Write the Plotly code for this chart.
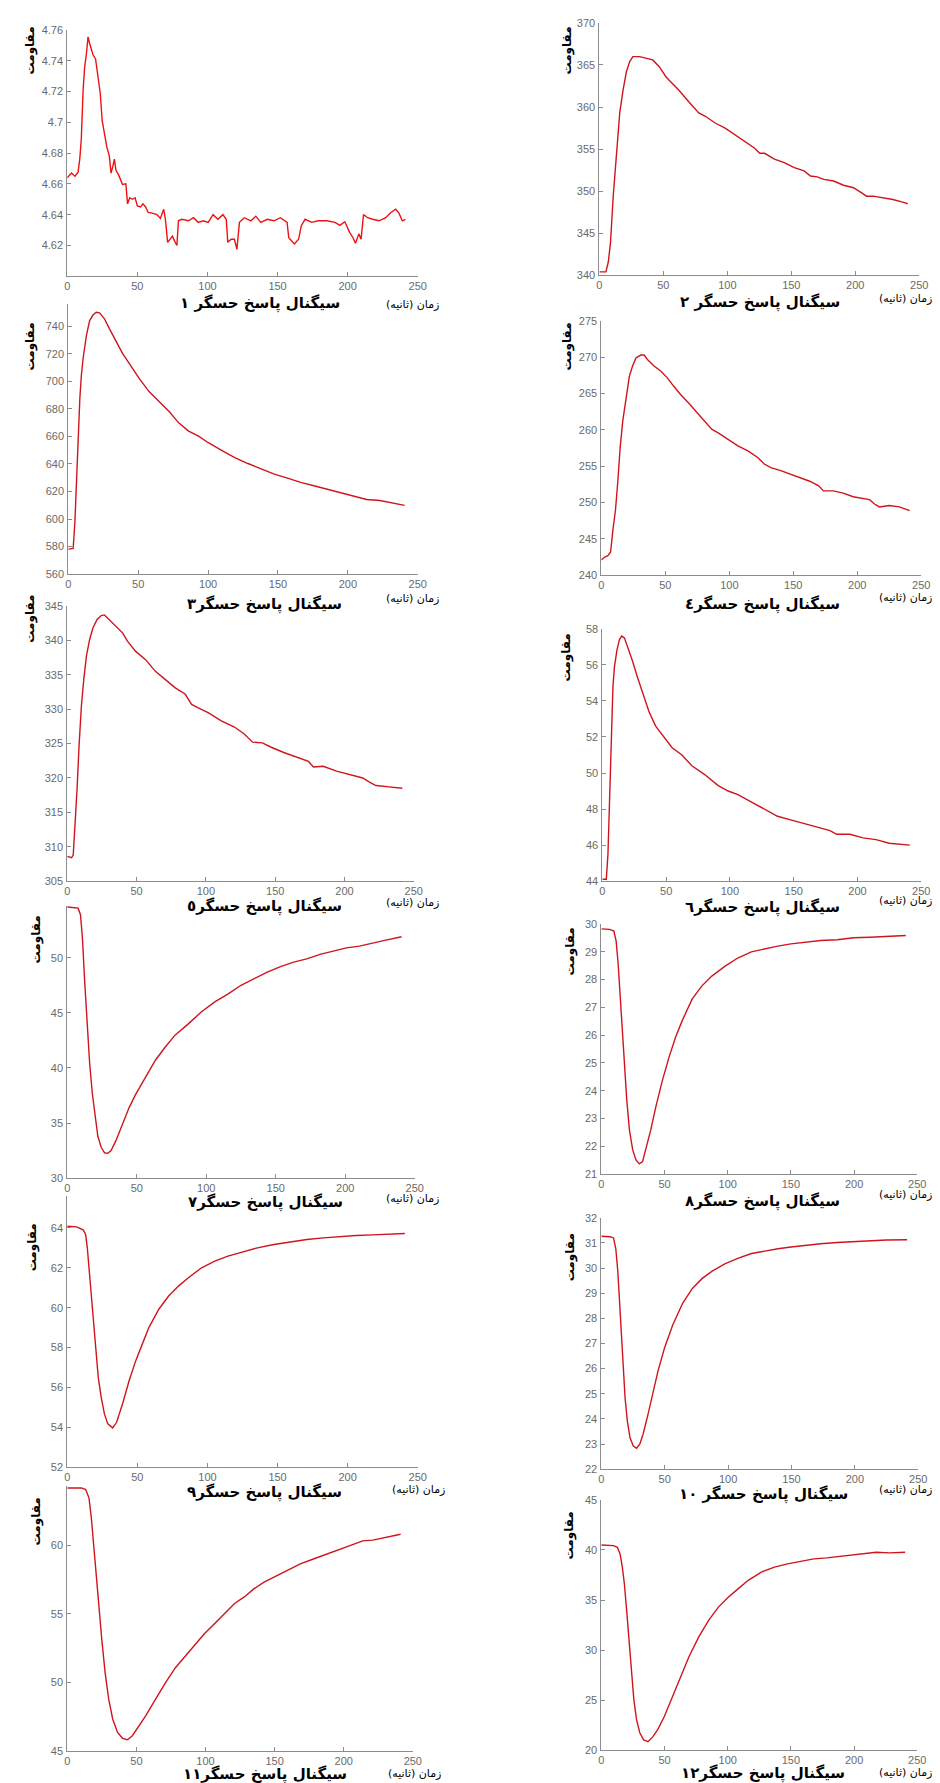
import plotly.graph_objects as go

W, H = 940, 1783

# ---------------- data (time in s, resistance) ----------------
s1_t = [0, 3, 5.5, 7.7, 8.9, 10, 11.3, 12.4, 13.6, 14.8, 16, 18.3, 20.2, 21.8, 23.5, 24.9, 26.5, 28.2, 30, 31.2,
        32.4, 33.6, 34.7, 37, 39.4, 41.8, 43, 44.6, 46.5, 48.4, 50, 52.3, 54, 55.9, 57.7, 60.6, 64, 66.4, 68.8, 70,
        71.6, 73.5, 75, 77, 78.2, 79.3, 81.7, 86.4, 90, 93.4, 97, 100.5, 104, 107.5, 111, 113.4, 114.5, 116.9, 119.2, 121,
        122.8, 126.3, 131, 134.5, 138, 142.7, 147.4, 152, 156.8, 158, 160.3, 162, 165, 167, 169.7, 174.4, 179, 185, 191, 194.4,
        198, 201.4, 203.8, 205.6, 208, 209.6, 211.3, 214.3, 217.8, 222.5, 227.2, 230.8, 234.3, 236.6, 239, 241.3]
s1_v = [4.664, 4.667, 4.665, 4.6676, 4.676, 4.689, 4.721, 4.736, 4.744, 4.7555, 4.751, 4.744, 4.741, 4.731, 4.719, 4.701, 4.693, 4.684, 4.678, 4.667,
        4.671, 4.676, 4.669, 4.665, 4.6596, 4.66, 4.647, 4.651, 4.650, 4.651, 4.6457, 4.645, 4.647, 4.645, 4.6414, 4.641, 4.640, 4.6375, 4.6435, 4.637,
        4.622, 4.624, 4.626, 4.622, 4.620, 4.636, 4.637, 4.636, 4.638, 4.635, 4.636, 4.635, 4.640, 4.637, 4.640, 4.637, 4.622, 4.624, 4.624, 4.6174,
        4.635, 4.638, 4.636, 4.639, 4.635, 4.637, 4.636, 4.638, 4.635, 4.625, 4.623, 4.621, 4.624, 4.633, 4.637, 4.635, 4.636, 4.636, 4.635, 4.633,
        4.6354, 4.6285, 4.625, 4.6214, 4.6275, 4.624, 4.640, 4.638, 4.637, 4.636, 4.638, 4.6414, 4.6435, 4.641, 4.636, 4.637]

s2_t = [0, 5.1, 7, 8.7, 10.8, 13.4, 15.9, 18.5, 21.1, 23.7, 26.2, 31.4, 36.5, 41.7, 46.8, 52, 57, 62.2, 70, 77.7,
        82.8, 90.5, 98.3, 106, 113.7, 121.4, 125.3, 129.1, 136.8, 144.5, 152.3, 160, 165, 170.3, 175.4, 183, 190.8, 198.6, 205, 208.8,
        214, 221.7, 229.4, 237.1, 241]
s2_v = [340.4, 340.4, 341.6, 343.9, 349.4, 354.5, 359.3, 362, 364.2, 365.4, 366, 366, 365.8, 365.6, 364.8, 363.6, 362.8, 362, 360.6, 359.3,
        358.9, 358.1, 357.5, 356.7, 355.9, 355.1, 354.5, 354.5, 353.8, 353.4, 352.8, 352.4, 351.8, 351.7, 351.4, 351.2, 350.7, 350.4, 349.8, 349.4,
        349.4, 349.2, 349, 348.7, 348.5]

s3_t = [0, 3.5, 4.7, 5.9, 7.1, 8.3, 9.4, 10.6, 13, 15.3, 17.7, 20, 22.4, 25.9, 29.5, 34.2, 38.9, 43.6, 50.7, 57.8,
        64.9, 72, 79, 86.1, 93.2, 100.2, 109.7, 119.1, 128.5, 138, 147.4, 156.8, 166.3, 175.7, 185.1, 194.6, 204, 213.4, 222.9, 232.3,
        240.6]
s3_v = [578.2, 578.7, 596.7, 630, 664, 687.8, 704.5, 716.5, 733.3, 744, 748, 750, 749.6, 745.3, 738, 728.5, 720, 713, 702, 692.5,
        685.4, 678.2, 669.8, 663.8, 660.2, 655.4, 649.9, 644.6, 640.3, 636.2, 632.6, 629.7, 626.6, 624.2, 621.8, 619.4, 617, 614.2, 613.5, 611.5,
        609.9]

s4_t = [0, 2.6, 5.1, 7.2, 9, 11, 12.9, 14.7, 16.7, 19.3, 21.9, 24.4, 27, 30.9, 33.4, 36, 41.2, 46.3, 51.4, 56.6,
        61.7, 68.2, 74.6, 81, 86.2, 91.3, 99, 106.7, 114.5, 122.2, 127.3, 132.5, 140.2, 148, 155.6, 163.3, 169.8, 173.6, 181.3, 189,
        196.8, 204.5, 209.6, 213.5, 217.3, 225, 232.8, 241]
s4_v = [242.1, 242.5, 242.7, 243.2, 246.2, 248.9, 253, 257.6, 261.2, 264.4, 267.4, 268.8, 269.9, 270.3, 270.3, 269.7, 268.8, 268.1, 267.2, 266,
        264.9, 263.7, 262.4, 261.2, 260.1, 259.6, 258.7, 257.8, 257.1, 256.2, 255.3, 254.8, 254.4, 253.9, 253.5, 252.9, 252.3, 251.6, 251.6, 251.3,
        250.8, 250.6, 250.4, 249.8, 249.4, 249.6, 249.4, 248.9]

s5_t = [0, 3.1, 4.3, 5.5, 7.1, 8.5, 10.2, 11.9, 13.8, 16.1, 18.5, 21.4, 24.5, 26.8, 30.4, 35.1, 39.9, 43.4, 49.4, 56.5,
        63.6, 70.8, 77.9, 85, 89.7, 94.5, 101.6, 111.1, 120.6, 127.7, 133.7, 140.8, 146.7, 156.2, 165.7, 174, 177.6, 184.7, 194.2, 203.7,
        213.2, 218, 222.7, 232.2, 241.7]
s5_v = [308.6, 308.4, 308.8, 312.7, 318.5, 324.7, 330.5, 334.3, 337.7, 340.1, 341.8, 343, 343.6, 343.7, 343, 342, 341.1, 339.9, 338.4, 337.2,
        335.5, 334.3, 333.1, 332.2, 330.7, 330.2, 329.5, 328.3, 327.4, 326.4, 325.2, 325.1, 324.5, 323.7, 323, 322.4, 321.6, 321.7, 321, 320.5,
        320, 319.4, 318.9, 318.7, 318.5]

s6_t = [0, 3.1, 4.4, 5.7, 7, 8.3, 9.5, 11.4, 13.4, 15.2, 17.3, 19.9, 23.7, 27.6, 31.5, 36.6, 41.8, 48.2, 54.7, 62.4,
        70.2, 80.5, 90.8, 98.6, 106.3, 116.6, 126.9, 137.3, 147.6, 157.9, 168.2, 178.5, 183.7, 194, 204.3, 214.6, 224.9, 232.7, 241]
s6_v = [44.1, 44.1, 45.5, 48.2, 51.9, 54.8, 55.9, 56.8, 57.4, 57.6, 57.5, 57, 56.2, 55.3, 54.5, 53.4, 52.6, 52, 51.4, 51,
        50.4, 49.9, 49.3, 49, 48.8, 48.4, 48, 47.6, 47.4, 47.2, 47, 46.8, 46.6, 46.6, 46.4, 46.3, 46.1, 46.05, 46]

s7_t = [0, 7.8, 9.5, 10.9, 12.5, 14.2, 16.1, 18, 19.9, 22, 24.4, 26.8, 29.1, 31.5, 35, 39.8, 44.5, 49.2, 56.3, 63.4,
        70.5, 77.7, 87.1, 96.6, 106.1, 115.5, 125, 134.5, 143.9, 153.4, 162.9, 172.3, 181.8, 191.3, 200.8, 210.2, 219.7, 229.2, 240.5]
s7_v = [54.6, 54.5, 53.9, 51.8, 47.9, 44.3, 40.4, 37.7, 35.6, 33.8, 32.8, 32.3, 32.25, 32.5, 33.4, 34.9, 36.4, 37.6, 39.2, 40.7,
        41.9, 43, 44, 45.1, 46, 46.7, 47.5, 48.1, 48.7, 49.2, 49.6, 49.9, 50.3, 50.6, 50.9, 51.05, 51.35, 51.6, 51.9]

s8_t = [0, 6.5, 9.9, 11.7, 13.3, 14.9, 16.4, 18.3, 20.1, 22.2, 24.8, 27.4, 30, 32.6, 35.2, 39.1, 43.1, 48.3, 53.5, 58.7,
        63.9, 71.8, 79.6, 87.4, 97.9, 108.3, 118.7, 129.2, 139.6, 150, 160.5, 173.5, 186.6, 199.6, 212.7, 225.7, 240.9]
s8_v = [29.82, 29.8, 29.74, 29.38, 28.55, 27.35, 26.16, 24.85, 23.66, 22.59, 21.87, 21.51, 21.37, 21.45, 21.87, 22.59, 23.42, 24.37, 25.2, 25.92,
        26.51, 27.29, 27.77, 28.12, 28.48, 28.78, 28.99, 29.1, 29.2, 29.28, 29.34, 29.4, 29.43, 29.5, 29.52, 29.55, 29.58]

s9_t = [0, 6.6, 11.3, 13.1, 14.3, 15.5, 16.7, 18.3, 20.2, 22.1, 24.2, 26.5, 28.9, 32.4, 35.2, 39.4, 44.1, 48.8, 53.5, 58.2,
        65.3, 72.3, 79.3, 86.4, 95.8, 105.2, 114.6, 123.9, 135.7, 147.4, 159.2, 170.9, 182.6, 194.4, 206.1, 217.8, 229.6, 240.8]
s9_v = [64.08, 64.05, 63.9, 63.67, 63, 62, 60.83, 59.33, 57.83, 56.5, 55.5, 54.67, 54.17, 53.97, 54.25, 55.17, 56.33, 57.33, 58.17, 59,
        59.92, 60.58, 61.08, 61.5, 62, 62.33, 62.58, 62.78, 63, 63.17, 63.3, 63.42, 63.5, 63.57, 63.62, 63.65, 63.68, 63.72]

s10_t = [0, 7, 9.6, 11.4, 13, 14.3, 15.6, 17.1, 18.7, 20.5, 22.6, 25.2, 27.7, 30.3, 32.9, 36.8, 40.7, 44.6, 49.8, 56.3,
         64.1, 71.8, 79.6, 87.4, 97.8, 108.1, 118.5, 128.9, 139.3, 149.6, 160, 173, 186, 198.9, 211.9, 224.8, 241.2]
s10_v = [31.27, 31.25, 31.2, 30.77, 29.85, 28.66, 27.34, 26.02, 24.84, 23.91, 23.25, 22.92, 22.83, 22.99, 23.39, 24.18, 25.1, 25.89, 26.82, 27.74,
         28.6, 29.19, 29.59, 29.88, 30.18, 30.4, 30.58, 30.68, 30.77, 30.84, 30.9, 30.97, 31.02, 31.06, 31.1, 31.12, 31.13]

s11_t = [0, 10.2, 13.3, 15.7, 17.4, 19, 21, 22.9, 25, 27.4, 30, 32.9, 36.4, 40, 43.6, 47.1, 51.9, 56.7, 63.8, 71,
         78.1, 85.2, 92.4, 99.5, 106.7, 113.8, 121, 128.1, 135.2, 142.4, 149.5, 159, 168.6, 178.1, 187.6, 197.1, 206.7, 213.8, 221, 230.5,
         241.2]
s11_v = [64.16, 64.16, 64.04, 63.44, 62, 60.07, 57.9, 55.5, 53.1, 50.7, 48.77, 47.33, 46.37, 45.94, 45.84, 46.13, 46.85, 47.57, 48.77, 49.98,
         51.06, 51.9, 52.74, 53.58, 54.3, 55.02, 55.75, 56.23, 56.83, 57.31, 57.67, 58.15, 58.63, 58.99, 59.35, 59.71, 60.07, 60.31, 60.36, 60.55,
         60.79]

s12_t = [0, 9.6, 12.7, 14.8, 16.6, 18.2, 20, 21.8, 23.6, 25.7, 27.8, 30.4, 33.5, 36.9, 40.8, 44.7, 49.9, 56.4, 62.9, 69.4,
         77.2, 85, 92.8, 100.6, 108.4, 116.2, 126.6, 137, 147.3, 157.7, 168.1, 178.5, 188.9, 199.3, 209.7, 217.5, 227.9, 240.4]
s12_v = [40.5, 40.44, 40.27, 39.61, 38.29, 36.63, 33.99, 31.01, 28.04, 25.06, 23.08, 21.75, 21.03, 20.86, 21.36, 22.08, 23.4, 25.39, 27.37, 29.36,
         31.34, 33, 34.32, 35.31, 36.14, 36.97, 37.79, 38.29, 38.62, 38.88, 39.11, 39.21, 39.35, 39.51, 39.61, 39.78, 39.71, 39.78]

series_t = [s1_t, s2_t, s3_t, s4_t, s5_t, s6_t, s7_t, s8_t, s9_t, s10_t, s11_t, s12_t]
series_v = [s1_v, s2_v, s3_v, s4_v, s5_v, s6_v, s7_v, s8_v, s9_v, s10_v, s11_v, s12_v]

# y-axis ranges and tick values
y_ranges = [[4.60, 4.76], [340, 370], [560, 756], [240, 275], [305, 345], [44, 58],
            [30, 54.7], [21, 30], [52, 65.6], [22, 32], [45, 64.3], [20, 45]]
y_ticks = [[4.62, 4.64, 4.66, 4.68, 4.70, 4.72, 4.74, 4.76],
           [340, 345, 350, 355, 360, 365, 370],
           [560, 580, 600, 620, 640, 660, 680, 700, 720, 740],
           [240, 245, 250, 255, 260, 265, 270, 275],
           [305, 310, 315, 320, 325, 330, 335, 340, 345],
           [44, 46, 48, 50, 52, 54, 56, 58],
           [30, 35, 40, 45, 50],
           [21, 22, 23, 24, 25, 26, 27, 28, 29, 30],
           [52, 54, 56, 58, 60, 62, 64],
           [22, 23, 24, 25, 26, 27, 28, 29, 30, 31, 32],
           [45, 50, 55, 60],
           [20, 25, 30, 35, 40, 45]]
x_ticks = [0, 50, 100, 150, 200, 250]

titles = ["سیگنال پاسخ حسگر ۱", "سیگنال پاسخ حسگر ۲", "سیگنال پاسخ حسگر۳", "سیگنال پاسخ حسگر٤",
          "سیگنال پاسخ حسگر٥", "سیگنال پاسخ حسگر٦", "سیگنال پاسخ حسگر۷", "سیگنال پاسخ حسگر۸",
          "سیگنال پاسخ حسگر۹", "سیگنال پاسخ حسگر ۱۰", "سیگنال پاسخ حسگر۱۱", "سیگنال پاسخ حسگر۱۲"]
y_label = "مقاومت"
x_label = "\u200fزمان (ثانیه)\u200f"

# ---------------- layout (pixel boxes) ----------------
# plot area boxes: (x0, x1, y_top, y_bottom)
boxes = [(57, 412, 16, 264), (596, 920, 9, 263),
         (58, 412, 292, 564), (598, 922, 309, 565),
         (57, 408, 596, 873), (599, 922, 619, 873),
         (57, 409, 898, 1172), (598, 918, 916, 1168),
         (57, 412, 1190, 1463), (598, 919, 1212, 1465),
         (57, 407, 1482, 1749), (598, 918, 1496, 1748)]
title_pos = [(252, 291), (759, 290), (257, 594), (761, 595), (257, 899), (761, 900),
             (258, 1197), (761, 1196), (257, 1489), (762, 1491), (257, 1772), (762, 1771)]
ylab_pos = [(20, 37), (564, 37), (20, 335), (564, 335), (20, 609), (563, 648),
            (26, 932), (567, 944), (22, 1242), (567, 1252), (26, 1518), (566, 1532)]
xlab_pos = [(407, 292), (906, 286), (407, 588), (906, 587), (407, 895), (906, 893),
            (407, 1193), (906, 1189), (413, 1486), (906, 1485), (409, 1771), (906, 1770)]


def px(x):
    return x / W


def py(y):
    return 1 - y / H


fig = go.Figure()
axis_grey = "#8c8c8c"
tick_font = dict(family="Liberation Sans, Arial, sans-serif", size=11, color="#6a6a6a")
line_colors = ["#ee1111"] + ["#d0141e"] * 11

annotations = []
for i in range(12):
    k = i + 1
    xa = "x" if k == 1 else f"x{k}"
    ya = "y" if k == 1 else f"y{k}"
    fig.add_trace(go.Scatter(x=series_t[i], y=series_v[i], mode="lines",
                             line=dict(color=line_colors[i], width=1.4),
                             xaxis=xa, yaxis=ya, showlegend=False, hoverinfo="x+y"))
    x0, x1, yt, yb = boxes[i]
    xname = "xaxis" if k == 1 else f"xaxis{k}"
    yname = "yaxis" if k == 1 else f"yaxis{k}"
    fig.update_layout({
        xname: dict(domain=[px(x0), px(x1)], anchor=ya, range=[0, 250],
                    tickvals=x_ticks, showline=True, linecolor=axis_grey, linewidth=1,
                    ticks="inside", ticklen=4, tickcolor=axis_grey, showgrid=False,
                    zeroline=False, tickfont=tick_font, ticklabelstandoff=0),
        yname: dict(domain=[py(yb), py(yt)], anchor=xa, range=y_ranges[i],
                    tickvals=y_ticks[i], showline=True, linecolor=axis_grey, linewidth=1,
                    ticks="inside", ticklen=4, tickcolor=axis_grey, showgrid=False,
                    zeroline=False, tickfont=tick_font, ticklabelstandoff=1),
    })
    tx, ty = title_pos[i]
    annotations.append(dict(text="<b>" + titles[i] + "</b>", x=px(tx), y=py(ty), xref="paper", yref="paper",
                            xanchor="center", yanchor="middle", showarrow=False,
                            font=dict(family="DejaVu Sans, sans-serif", size=15, color="#000")))
    lx, ly = ylab_pos[i]
    annotations.append(dict(text="<b>" + y_label + "</b>", x=px(lx), y=py(ly), xref="paper", yref="paper",
                            xanchor="center", yanchor="middle", showarrow=False, textangle=-90,
                            font=dict(family="DejaVu Sans, sans-serif", size=12, color="#000")))
    ax_, ay_ = xlab_pos[i]
    annotations.append(dict(text=x_label, x=px(ax_), y=py(ay_), xref="paper", yref="paper",
                            xanchor="center", yanchor="middle", showarrow=False,
                            font=dict(family="DejaVu Sans, sans-serif", size=11, color="#000")))

fig.update_layout(width=W, height=H, margin=dict(l=0, r=0, t=0, b=0),
                  paper_bgcolor="white", plot_bgcolor="white", showlegend=False,
                  annotations=annotations)

fig.write_html("out.html")
